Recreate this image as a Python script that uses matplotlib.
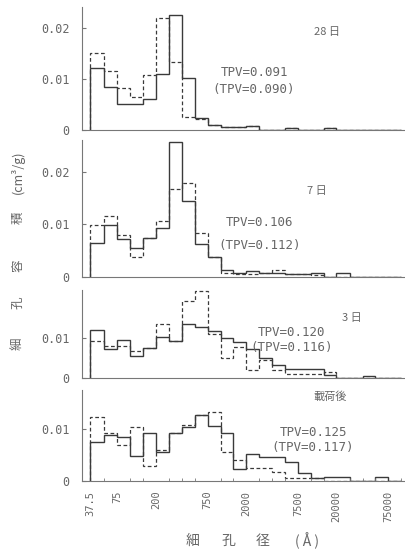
import matplotlib
matplotlib.use('Agg')
import matplotlib.pyplot as plt
from matplotlib.ticker import FixedLocator, NullLocator, NullFormatter

CJK = ['Noto Sans CJK JP', 'DejaVu Sans']
INK = '#3a3a3a'
TEXT = '#666666'

# pore radius bin edges (Å)
edges = [37.5, 53, 75, 105, 145, 200, 280, 390, 540, 750, 1050, 1450, 2000,
         2800, 3900, 5400, 7500, 10500, 14500, 20000, 28000, 39000, 54000,
         75000, 105000]

x_ticks = [37.5, 75, 200, 750, 2000, 7500, 20000, 75000]
x_labels = ['37.5', '75', '200', '750', '2000', '7500', '20000', '75000']

# 28 days
d28_solid = [0.0122, 0.0085, 0.0052, 0.0051, 0.0060, 0.0110, 0.0225, 0.0103,
             0.0023, 0.0010, 0.0006, 0.0006, 0.0008, 0, 0, 0.0004, 0, 0,
             0.0004, 0, 0, 0, 0, 0]
d28_dashed = [0.0152, 0.0116, 0.0083, 0.0065, 0.0108, 0.0219, 0.0134, 0.0026,
              0.0022, 0.0010, 0.0006, 0.0006, 0.0007, 0, 0, 0.0004, 0, 0,
              0.0004, 0, 0, 0, 0, 0]

# 7 days
d7_solid = [0.0064, 0.0099, 0.0072, 0.0054, 0.0073, 0.0093, 0.0258, 0.0144,
            0.0062, 0.0038, 0.0012, 0.0007, 0.0011, 0.0006, 0.0006, 0.0005,
            0.0004, 0.0006, 0, 0.0007, 0, 0, 0, 0]
d7_dashed = [0.0098, 0.0117, 0.0080, 0.0038, 0.0073, 0.0107, 0.0168, 0.0179,
             0.0083, 0.0038, 0.0007, 0.0005, 0.0005, 0.0006, 0.0012, 0.0005,
             0.0004, 0.0003, 0, 0, 0, 0, 0, 0]

# 3 days
d3_solid = [0.0122, 0.0073, 0.0097, 0.0056, 0.0077, 0.0104, 0.0093, 0.0137,
            0.0129, 0.0118, 0.0100, 0.0090, 0.0073, 0.0052, 0.0033, 0.0023,
            0.0023, 0.0023, 0.0008, 0, 0, 0.0007, 0, 0]
d3_dashed = [0.0093, 0.0082, 0.0082, 0.0068, 0.0077, 0.0135, 0.0093, 0.0194,
             0.0219, 0.0112, 0.0052, 0.0079, 0.0021, 0.0046, 0.0021, 0.0011,
             0.0011, 0.0011, 0.0017, 0, 0, 0, 0, 0]

# after loading
load_solid = [0.0076, 0.0089, 0.0086, 0.0048, 0.0092, 0.0057, 0.0092, 0.0104,
              0.0128, 0.0106, 0.0092, 0.0023, 0.0052, 0.0046, 0.0046, 0.0037,
              0.0015, 0.0005, 0.0008, 0.0008, 0, 0, 0.0008, 0]
load_dashed = [0.0124, 0.0093, 0.0070, 0.0105, 0.0029, 0.0060, 0.0092, 0.0108,
               0.0128, 0.0134, 0.0057, 0.0040, 0.0026, 0.0026, 0.0017, 0.0005,
               0.0005, 0.0005, 0, 0, 0, 0, 0, 0]

panels = [
    # solid, dashed, ylim, yticks, tag, tpv, tpv_dashed, rect, tag_xy, tpv_xy
    (d28_solid, d28_dashed, 0.0242, [0, 0.01, 0.02], '28 日', '0.091', '0.090',
     [0.2025, 0.7649, 0.7975, 0.2230], (327, 32), (254, 72, 89)),
    (d7_solid, d7_dashed, 0.0262, [0, 0.01, 0.02], '7 日', '0.106', '0.112',
     [0.2025, 0.5000, 0.7975, 0.2470], (317, 191), (260, 223, 246)),
    (d3_solid, d3_dashed, 0.0222, [0, 0.01], '3 日', '0.120', '0.116',
     [0.2025, 0.3159, 0.7975, 0.1605], (352, 318), (292, 333, 348)),
    (load_solid, load_dashed, 0.0176, [0, 0.01], '載荷後', '0.125', '0.117',
     [0.2025, 0.1302, 0.7975, 0.1646], (330, 397), (313, 433, 448)),
]

W, H = 405, 553
fig = plt.figure(figsize=(W / 100, H / 100), dpi=100)

for i, (solid, dashed, ylim, yticks, tag, tpv, tpv2, rect, tag_xy, tpv_xy) in enumerate(panels):
    ax = fig.add_axes(rect)
    ax.stairs(dashed, edges, baseline=0, color=INK, lw=0.9, linestyle=(0, (3, 2)))
    ax.stairs(solid, edges, baseline=0, color=INK, lw=1.0)
    ax.set_xscale('log')
    ax.set_xlim(30.5, 115000)
    ax.set_ylim(0, ylim)
    for side in ('top', 'right'):
        ax.spines[side].set_visible(False)
    for side in ('left', 'bottom'):
        ax.spines[side].set_color('#777777')
        ax.spines[side].set_linewidth(0.8)
    ax.set_yticks(yticks)
    ax.set_yticklabels(['0' if v == 0 else f'{v:.2f}' for v in yticks],
                       family='DejaVu Sans Mono')
    ax.tick_params(axis='y', direction='in', length=3, pad=9, labelsize=8.5,
                   labelcolor=TEXT, color='#777777')
    ax.patch.set_alpha(0)
    if i == 3:
        ax.xaxis.set_major_locator(FixedLocator(x_ticks))
        ax.set_xticklabels(x_labels, rotation=90, va='top', family='DejaVu Sans Mono')
        ax.xaxis.set_minor_locator(FixedLocator(edges))
        ax.xaxis.set_minor_formatter(NullFormatter())
        ax.tick_params(axis='x', which='major', length=0, pad=7, labelsize=7.5,
                       labelcolor=TEXT)
        ax.tick_params(axis='x', which='minor', direction='in', length=2,
                       color='#777777')
    else:
        ax.xaxis.set_major_locator(NullLocator())
        ax.xaxis.set_minor_locator(NullLocator())

    fig.text(tag_xy[0] / W, 1 - tag_xy[1] / H, tag, family=CJK, fontsize=8,
             color=TEXT, ha='center', va='center')
    fig.text(tpv_xy[0] / W, 1 - tpv_xy[1] / H, f'TPV={tpv}', family='DejaVu Sans Mono',
             fontsize=9, color=TEXT, ha='center', va='center')
    fig.text(tpv_xy[0] / W, 1 - tpv_xy[2] / H, f'(TPV={tpv2})', family='DejaVu Sans Mono',
             fontsize=9, color=TEXT, ha='center', va='center')

# vertical axis title, spaced out like the original
for ch, y in [('細', 344), ('孔', 303), ('容', 266), ('積', 218), ('(cm³/g)', 172)]:
    fig.text(18 / W, 1 - y / H, ch, family=CJK, fontsize=9, color=TEXT,
             rotation=90, ha='center', va='center')

# horizontal axis title
for ch, x in [('細', 193), ('孔', 228), ('径', 263), ('( Å )', 307)]:
    fig.text(x / W, 1 - 541 / H, ch, family=CJK, fontsize=10, color=TEXT,
             ha='center', va='center')

fig.savefig('out.png', dpi=100)
